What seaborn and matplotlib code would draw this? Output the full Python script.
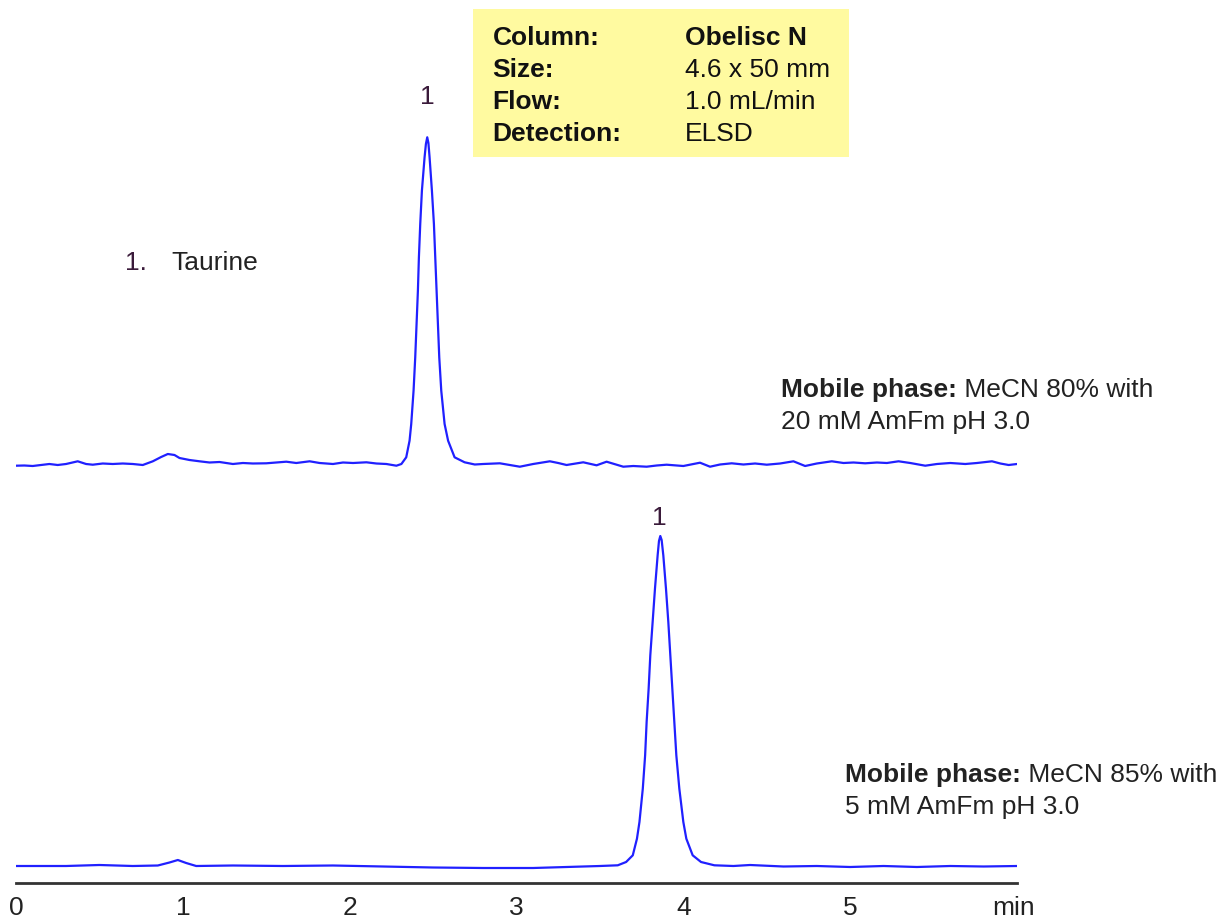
import matplotlib
matplotlib.use("Agg")
import matplotlib.pyplot as plt
from matplotlib.patches import Rectangle
import seaborn as sns

# retention time (min) and detector signal, baseline-relative
top_time = [0.0, 0.05, 0.10, 0.15, 0.20, 0.25, 0.30, 0.37, 0.42, 0.46, 0.52, 0.58, 0.64,
            0.70, 0.76, 0.82, 0.87, 0.91, 0.95, 0.98, 1.04, 1.10, 1.16, 1.22, 1.30, 1.36,
            1.42, 1.50, 1.56, 1.62, 1.68, 1.76, 1.82, 1.90, 1.96, 2.02, 2.10, 2.16, 2.22,
            2.28, 2.31, 2.339, 2.359, 2.369, 2.383, 2.393, 2.401, 2.409, 2.415, 2.423,
            2.433, 2.449, 2.457, 2.465, 2.472, 2.479, 2.493, 2.505, 2.513, 2.521, 2.529,
            2.537, 2.549, 2.569, 2.590, 2.629, 2.689, 2.75, 2.80, 2.90, 2.96, 3.02, 3.10,
            3.20, 3.25, 3.30, 3.40, 3.48, 3.54, 3.64, 3.70, 3.78, 3.84, 3.90, 4.00, 4.10,
            4.16, 4.22, 4.29, 4.36, 4.43, 4.50, 4.58, 4.66, 4.73, 4.80, 4.89, 4.96, 5.02,
            5.09, 5.16, 5.22, 5.29, 5.36, 5.45, 5.52, 5.60, 5.69, 5.76, 5.85, 5.90, 5.95,
            6.0]
top_signal = [-1.7, -1.5, -2.0, -1.0, 0.0, -1.0, 0.0, 2.7, 0.0, -0.7, 0.5, 0.0, 0.5,
              0.0, -1.0, 2.7, 7.0, 10.0, 9.0, 6.0, 4.0, 2.7, 1.5, 2.0, 0.0, 1.0,
              0.5, 0.7, 1.5, 2.3, 1.0, 2.7, 1.0, 0.0, 1.5, 1.0, 1.7, 0.5, 0.0,
              -1.7, 0.0, 6.7, 23.3, 40.0, 73.3, 106.7, 140.0, 173.3, 206.7, 240.0,
              273.3, 306.7, 320.0, 326.7, 321.0, 306.7, 273.3, 240.0, 206.7, 173.3, 140.0,
              106.7, 73.3, 40.0, 23.3, 6.7, 1.7, -0.5, 0.0, 0.7, -1.0, -2.7, 0.0,
              2.7, 1.0, -1.0, 1.7, -1.3, 2.3, -2.7, -2.0, -2.7, -1.5, -0.7, -2.0, 1.3,
              -2.7, -0.5, 0.7, -0.5, 0.5, -0.7, 0.5, 2.7, -2.0, 0.5, 2.7, 1.0, 1.5,
              0.7, 1.5, 1.0, 2.7, 1.0, -1.7, 0.0, 1.0, 0.0, 1.0, 2.7, 0.5, -1.0,
              0.0]

bottom_time = [0.0, 0.3, 0.5, 0.7, 0.85, 0.92, 0.97, 1.02, 1.08, 1.3, 1.6, 1.9, 2.2,
               2.5, 2.8, 3.1, 3.3, 3.5, 3.607, 3.657, 3.697, 3.722, 3.737, 3.757, 3.771,
               3.780, 3.792, 3.802, 3.816, 3.830, 3.846, 3.854, 3.862, 3.870, 3.880, 3.896,
               3.910, 3.922, 3.934, 3.946, 3.958, 3.976, 4.000, 4.018, 4.056, 4.106, 4.186,
               4.3, 4.4, 4.6, 4.8, 5.0, 5.2, 5.4, 5.6, 5.8, 6.0]
bottom_signal = [0.0, 0.0, 1.0, 0.0, 0.5, 3.5, 6.0, 3.0, 0.0, 0.5, 0.0, 0.5, -0.5,
                 -1.5, -2.0, -2.0, -1.0, 0.0, 0.7, 4.0, 10.7, 27.3, 44.0, 77.3, 110.7,
                 144.0, 177.3, 210.7, 244.0, 277.3, 310.7, 325.0, 330.0, 326.0, 310.7, 277.3,
                 244.0, 210.7, 177.3, 144.0, 110.7, 77.3, 44.0, 27.3, 10.7, 4.0, 0.7,
                 0.0, 1.0, -0.5, 0.0, -1.0, 0.0, -1.0, 0.0, -0.5, 0.0]

# vertical offsets of the two stacked traces
top_offset = 419
bottom_offset = 17

tick_values = [0, 1, 2, 3, 4, 5]
box_labels = ["Column:", "Size:", "Flow:", "Detection:"]
box_values = ["Obelisc N", "4.6 x 50 mm", "1.0 mL/min", "ELSD"]

sns.set_style("white")
plt.rcParams["font.family"] = ["Liberation Sans", "DejaVu Sans"]
fs = 19

fig = plt.figure(figsize=(12.21, 9.2), dpi=100)
ax = fig.add_axes([16 / 1221, 1 - 884 / 920, 1001 / 1221, 884 / 920])

line_color = "#2020ff"
sns.lineplot(x=top_time, y=[v + top_offset for v in top_signal], ax=ax,
             color=line_color, linewidth=1.6)
sns.lineplot(x=bottom_time, y=[v + bottom_offset for v in bottom_signal], ax=ax,
             color=line_color, linewidth=1.6)

ax.set_xlim(0, 6)
ax.set_ylim(0, 884)
ax.set_yticks([])
ax.set_xticks(tick_values)
ax.set_xticklabels([str(v) for v in tick_values])
ax.tick_params(axis="x", direction="out", length=6, width=1.5, color="#333333",
               labelsize=fs, labelcolor="#222222", pad=3)
ax.xaxis.get_major_ticks()[0].tick1line.set_visible(False)
for side in ["left", "right", "top"]:
    ax.spines[side].set_visible(False)
ax.spines["bottom"].set_color("#333333")
ax.spines["bottom"].set_linewidth(2)
ax.set_xlabel("")
ax.set_ylabel("")
ax.text(5.98, -24, "min", fontsize=fs, color="#222222", ha="center", va="center",
        clip_on=False)

# peak labels
peak_color = "#3a1a3a"
ax.text(2.467, 787, "1", fontsize=fs, color=peak_color, ha="center", va="center")
ax.text(3.858, 366, "1", fontsize=fs, color=peak_color, ha="center", va="center")
ax.text(0.653, 621, "1.", fontsize=fs, color=peak_color, ha="left", va="center")
ax.text(0.934, 621, "Taurine", fontsize=fs, color="#222222", ha="left", va="center")

# condition box
ax.add_patch(Rectangle((2.737, 726), 2.257, 148, facecolor="#fffaa0",
                       edgecolor="none", zorder=0))
for i, (lab, val) in enumerate(zip(box_labels, box_values)):
    y = 846 - 32 * i
    ax.text(2.856, y, lab, fontsize=fs, fontweight="bold", color="#111111",
            ha="left", va="center")
    ax.text(4.012, y, val, fontsize=fs, color="#111111", ha="left", va="center",
            fontweight="bold" if i == 0 else "normal")


def mobile_phase(x, y, first, second):
    t = ax.text(x, y, "Mobile phase:", fontsize=fs, fontweight="bold",
                color="#222222", ha="left", va="center", clip_on=False)
    ax.annotate(" " + first, xy=(1, 0), xycoords=t, fontsize=fs, color="#222222",
                ha="left", va="bottom", annotation_clip=False)
    ax.text(x, y - 32, second, fontsize=fs, color="#222222", ha="left",
            va="center", clip_on=False)


mobile_phase(4.587, 494, "MeCN 80% with", "20 mM AmFm pH 3.0")
mobile_phase(4.970, 109, "MeCN 85% with", "5 mM AmFm pH 3.0")

plt.savefig("out.png", dpi=100)
